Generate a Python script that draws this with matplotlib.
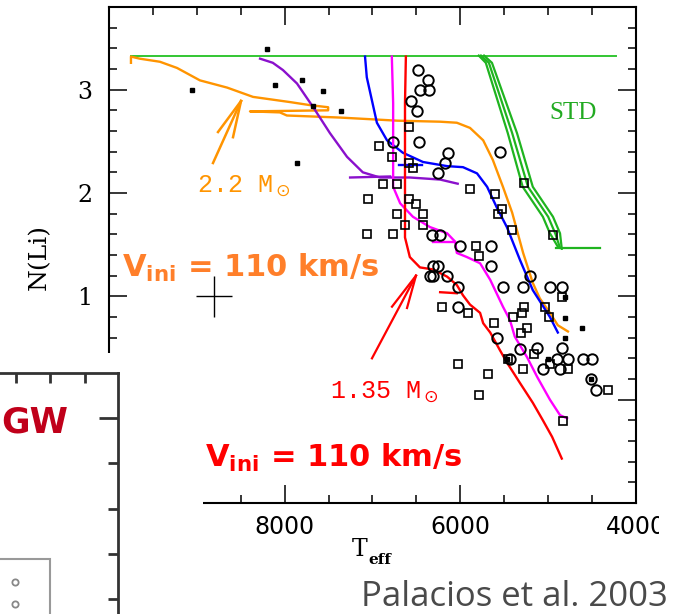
import numpy as np
import matplotlib.pyplot as plt
from matplotlib.ticker import MultipleLocator
from matplotlib.patches import Rectangle

# --- observed stars: (Teff, N(Li)) ---
circ_T = [6480, 6370, 6460, 6360, 6560, 6490, 6470, 6770, 6140, 6175, 6250, 5550,
          6320, 6230, 6000, 5650, 5650, 6250, 6310, 6345, 6310, 6150, 6030, 5510,
          5290, 5210, 4980, 4840, 6030, 5580, 5320, 5130, 5435, 4900, 4775, 4605,
          4500, 4840, 5060, 4865, 4510, 4455]
circ_N = [3.19, 3.09, 3.00, 3.00, 2.89, 2.79, 2.49, 2.49, 2.39, 2.29, 2.19, 2.40,
          1.59, 1.59, 1.49, 1.49, 1.29, 1.29, 1.29, 1.20, 1.20, 1.20, 1.09, 1.09,
          1.09, 1.20, 1.09, 1.09, 0.90, 0.60, 0.49, 0.50, 0.39, 0.39, 0.39, 0.39,
          0.39, 0.50, 0.30, 0.30, 0.20, 0.09]

sq_T = [6580, 6925, 6780, 6580, 6540, 6880, 6720, 5890, 5275, 5605, 7050, 6580,
        6505, 5525, 5570, 6720, 6425, 6630, 6425, 5410, 4945, 7060, 6770, 5820,
        5790, 4840, 6210, 5910, 5275, 5035, 5300, 5400, 4990, 5615, 5240, 5310,
        5160, 5455, 5290, 4775, 4980, 5685, 5790, 6030, 4320, 4830]
sq_N = [2.64, 2.45, 2.35, 2.29, 2.24, 2.09, 2.09, 2.04, 2.10, 1.99, 1.94, 1.94,
        1.89, 1.85, 1.80, 1.80, 1.80, 1.69, 1.69, 1.64, 1.59, 1.60, 1.60, 1.49,
        1.39, 0.99, 0.90, 0.84, 0.90, 0.90, 0.84, 0.80, 0.80, 0.74, 0.69, 0.65,
        0.44, 0.39, 0.30, 0.30, 0.35, 0.25, 0.05, 0.35, 0.09, -0.21]

dot_T = [9060, 8200, 8110, 7800, 7560, 7680, 7360, 7860, 4810, 4810, 4615, 4810,
         5000, 5470, 4510]
dot_N = [3.00, 3.39, 3.05, 3.09, 2.99, 2.84, 2.79, 2.29, 0.99, 0.79, 0.69, 0.60,
         0.39, 0.39, 0.20]

# --- model tracks ---
std_T = [9750, 4230]
std_N = [3.33, 3.33]
stdA_T = [5790, 5710, 5460, 5290, 5060, 4980, 4890]
stdA_N = [3.33, 3.26, 2.58, 2.06, 1.77, 1.61, 1.48]
stdB_T = [5765, 5675, 5410, 5230, 5000, 4920, 4865]
stdB_N = [3.33, 3.26, 2.58, 2.06, 1.77, 1.61, 1.47]
stdC_T = [5730, 5640, 5355, 5175, 4945, 4865, 4845]
stdC_N = [3.33, 3.26, 2.58, 2.06, 1.77, 1.61, 1.46]
stdF_T = [4910, 4410]
stdF_N = [1.47, 1.47]

or_T = [9750, 9750, 9650, 9420, 9225, 8965, 8655, 8360, 7940, 7710, 7505, 7505,
        8395, 8055, 7975, 7370, 6720, 6230, 6040, 5890, 5740, 5630, 5515, 5410,
        5285, 5175, 5095, 4980, 4890, 4775]
or_N = [3.26, 3.32, 3.30, 3.27, 3.21, 3.09, 3.02, 2.93, 2.88, 2.85, 2.83, 2.80,
        2.79, 2.78, 2.75, 2.73, 2.70, 2.69, 2.68, 2.63, 2.51, 2.32, 2.06, 1.81,
        1.42, 1.13, 0.98, 0.84, 0.72, 0.66]

pu_T = [8280, 8135, 8020, 7860, 7675, 7485, 7290, 7110, 6915, 6575, 6230, 6030]
pu_N = [3.30, 3.26, 3.19, 3.06, 2.83, 2.58, 2.35, 2.20, 2.15, 2.15, 2.13, 2.09]
pu2_T = [7255, 6800]
pu2_N = [2.15, 2.16]

bl_T = [7085, 7065, 6950, 6835, 6655, 6425, 6150, 5970, 5810, 5695, 5585, 5470,
        5320, 5175, 4980, 4890]
bl_N = [3.32, 3.12, 2.68, 2.51, 2.39, 2.30, 2.26, 2.25, 2.19, 2.06, 1.86, 1.67,
        1.35, 1.06, 0.80, 0.65]
bl2_T = [6700, 6440]
bl2_N = [2.27, 2.27]

mg_T = [6780, 6765, 6765, 6685, 6540, 6345, 6150, 6060, 6040, 5925, 5775, 5660,
        5515, 5435, 5380, 5240, 5125, 4980, 4865, 4785]
mg_N = [3.32, 2.87, 2.06, 1.90, 1.77, 1.67, 1.61, 1.53, 1.42, 1.38, 1.32, 1.16,
        0.90, 0.77, 0.61, 0.41, 0.22, 0.00, -0.15, -0.18]
mg2_T = [6310, 6060]
mg2_N = [1.53, 1.53]

rd_T = [6620, 6630, 6630, 6575, 6460, 6310, 6150, 6040, 5970, 5890, 5775, 5740,
        5660, 5550, 5470, 5320, 5175, 5060, 4955, 4845]
rd_N = [3.32, 2.87, 1.57, 1.38, 1.28, 1.26, 1.19, 1.11, 1.01, 0.92, 0.84, 0.74,
        0.65, 0.48, 0.36, 0.16, -0.03, -0.20, -0.36, -0.57]
rd2_T = [6230, 6040]
rd2_N = [1.04, 1.03]

# hand-drawn arrows (tail -> tip, two head strokes)
arr_or_T = [[8816, 8497], [8759, 8497], [8588, 8497]]
arr_or_N = [[2.29, 2.89], [2.59, 2.89], [2.54, 2.89]]
arr_rd_T = [[7006, 6505], [6778, 6505], [6607, 6505]]
arr_rd_N = [[0.40, 1.20], [0.90, 1.20], [0.887, 1.20]]

# typical error bar
err_T, err_N, err_dT, err_dN = 8805, 1.0, 200, 0.2

xticks = [10000, 8000, 6000, 4000]
xticklabels = ['10000', '8000', '6000', '4000']
yticks = [-1, 0, 1, 2, 3]
yticklabels = ['-1', '0', '1', '2', '3']

ORANGE = '#ff9400'
GREEN = '#1fb41f'

fig = plt.figure(figsize=(6.75, 6.14), dpi=100)
ax = fig.add_axes([109 / 675, 1 - 503 / 614, 527 / 675, 496 / 614])

lw = 1.7
ax.plot(std_T, std_N, color='#33c633', lw=1.4)
for tt, nn in [(stdA_T, stdA_N), (stdB_T, stdB_N), (stdC_T, stdC_N), (stdF_T, stdF_N)]:
    ax.plot(tt, nn, color=GREEN, lw=1.6)
ax.plot(or_T, or_N, color=ORANGE, lw=lw)
ax.plot(pu_T, pu_N, color='#8a10cc', lw=lw)
ax.plot(pu2_T, pu2_N, color='#8a10cc', lw=lw)
ax.plot(bl_T, bl_N, color='#0000ff', lw=lw)
ax.plot(bl2_T, bl2_N, color='#0000ff', lw=lw)
ax.plot(mg_T, mg_N, color='#ff00ff', lw=lw)
ax.plot(mg2_T, mg2_N, color='#ff00ff', lw=lw)
ax.plot(rd_T, rd_N, color='#ff0000', lw=lw)
ax.plot(rd2_T, rd2_N, color='#ff0000', lw=lw)

ax.plot(circ_T, circ_N, 'o', mfc='none', mec='k', ms=7.5, mew=1.4)
ax.plot(sq_T, sq_N, 's', mfc='none', mec='k', ms=5.3, mew=1.2)
ax.plot(dot_T, dot_N, 's', color='k', ms=2.5)

ax.errorbar(err_T, err_N, xerr=err_dT, yerr=err_dN, fmt='none', ecolor='k',
            elinewidth=1.0, capsize=0)

for tt, nn in zip(arr_or_T, arr_or_N):
    ax.plot(tt, nn, color=ORANGE, lw=1.8)
for tt, nn in zip(arr_rd_T, arr_rd_N):
    ax.plot(tt, nn, color='#ff0000', lw=1.6)

ax.text(9000, 2.07, '2.2 M' + r'$_\odot$', color=ORANGE, fontsize=18,
        family='Liberation Mono', va='center', ha='left')
ax.text(7484, 0.07, '1.35 M' + r'$_\odot$', color='#ff0000', fontsize=18,
        family='Liberation Mono', va='center', ha='left')
ax.text(4717, 2.77, 'STD', color='#22aa22', fontsize=18,
        family='Liberation Serif', va='center', ha='center')

ax.text(9852, 1.187, r'$\mathbf{V_{ini}}$ = 110 km/s', color='#ff7f2a',
        fontsize=22, fontweight='bold', va='baseline', ha='left')
ax.text(8907, -0.652, r'$\mathbf{V_{ini}}$ = 110 km/s', color='#ff0000',
        fontsize=22, fontweight='bold', va='baseline', ha='left')

ax.set_xlim(10000, 4000)
ax.set_ylim(-1, 3.8)
ax.set_xticks(xticks)
ax.set_xticklabels(xticklabels, fontsize=17, family='DejaVu Sans')
ax.set_yticks(yticks)
ax.set_yticklabels(yticklabels, fontsize=17, family='DejaVu Serif')
ax.xaxis.set_minor_locator(MultipleLocator(500))
ax.yaxis.set_minor_locator(MultipleLocator(0.2))
ax.tick_params(which='both', direction='in', top=True, right=True, width=1.1)
ax.tick_params(which='major', length=13)
ax.tick_params(which='minor', length=6)
ax.tick_params(axis='x', pad=9)
ax.tick_params(axis='y', pad=12)
for s in ax.spines.values():
    s.set_linewidth(1.5)

fig.text(39 / 675, 1 - 257 / 614, 'N(Li)', rotation=90, fontsize=18,
         family='DejaVu Serif', ha='center', va='center')
fig.text(360 / 675, 1 - 549 / 614, 'T', fontsize=17, family='DejaVu Serif',
         ha='center', va='center')
fig.text(380 / 675, 1 - 560 / 614, 'eff', fontsize=11, family='DejaVu Serif',
         fontweight='bold', ha='center', va='center')
fig.text(668 / 675, 1 - 606 / 614, 'Palacios et al. 2003', fontsize=25,
         family='Open Sans', color='#4a4a4a', ha='right', va='baseline')

# white cut-outs of the slide
fig.add_artist(Rectangle((0, 0), 203 / 675, 1 - 353 / 614, transform=fig.transFigure,
                         facecolor='white', edgecolor='none', zorder=5))
fig.add_artist(Rectangle((659 / 675, 1 - 548 / 614), 16 / 675, 45 / 614,
                         transform=fig.transFigure, facecolor='white',
                         edgecolor='none', zorder=5))

# neighbouring slide panel (partly hidden)
ax2 = fig.add_axes([-0.3, -0.3, 0.47481, 0.693], zorder=6)
ax2.set_xlim(-202.5, 118)
ax2.set_ylim(798.2, 372.7)
for side in ['left', 'bottom']:
    ax2.spines[side].set_visible(False)
for side in ['top', 'right']:
    ax2.spines[side].set_linewidth(2)
    ax2.spines[side].set_color('#333333')
ax2.xaxis.tick_top()
ax2.yaxis.tick_right()
ax2.set_xticks([16, 50, 85])
ax2.set_yticks([418, 463, 509, 554, 599])
ax2.tick_params(direction='in', length=7, width=2, color='#333333',
                labeltop=False, labelright=False)
ax2.yaxis.get_major_ticks()[0].tick2line.set_markersize(14)
ax2.text(1, 423, 'GW', ha='left', va='center', color='#c0001a', fontsize=25,
         fontweight='bold', family='DejaVu Sans')
ax2.add_patch(Rectangle((-20, 559), 70, 200, facecolor='none', edgecolor='#999999',
                        lw=1.5))
ax2.plot([15, 15], [582, 604], 'o', mfc='none', mec='#888888', ms=4.5, mew=1.3)

fig.savefig('out.png', dpi=100)
